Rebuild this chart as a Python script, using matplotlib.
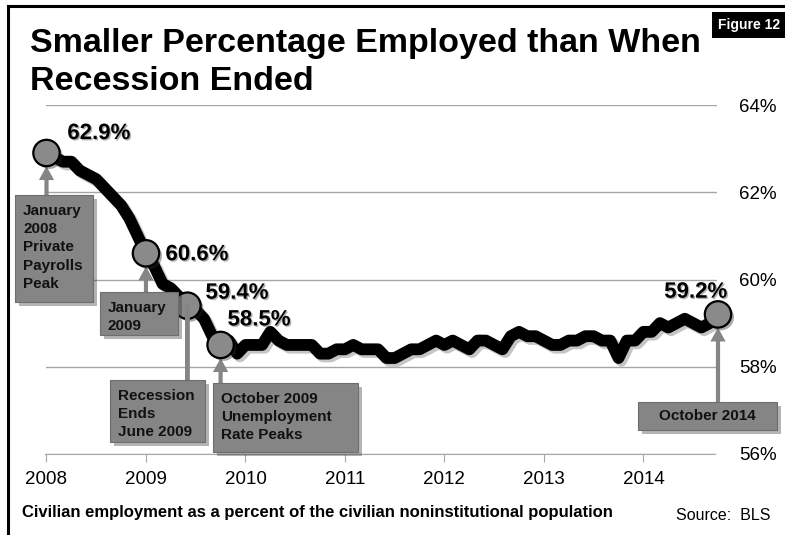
import matplotlib.pyplot as plt
import matplotlib.patheffects as pe
from matplotlib.patches import Rectangle
from matplotlib.ticker import FuncFormatter

plt.rcParams['font.family'] = ['Liberation Sans', 'DejaVu Sans']

# employment-population ratio, monthly, Jan 2008 - Oct 2014
emp_2008 = [62.9, 62.8, 62.7, 62.7, 62.5, 62.4, 62.3, 62.1, 61.9, 61.7, 61.4, 61.0]
emp_2009 = [60.6, 60.3, 59.9, 59.8, 59.6, 59.4, 59.3, 59.1, 58.7, 58.5, 58.6, 58.3]
emp_2010 = [58.5, 58.5, 58.5, 58.8, 58.6, 58.5, 58.5, 58.5, 58.5, 58.3, 58.3, 58.4]
emp_2011 = [58.4, 58.5, 58.4, 58.4, 58.4, 58.2, 58.2, 58.3, 58.4, 58.4, 58.5, 58.6]
emp_2012 = [58.5, 58.6, 58.5, 58.4, 58.6, 58.6, 58.5, 58.4, 58.7, 58.8, 58.7, 58.7]
emp_2013 = [58.6, 58.5, 58.5, 58.6, 58.6, 58.7, 58.7, 58.6, 58.6, 58.2, 58.6, 58.6]
emp_2014 = [58.8, 58.8, 59.0, 58.9, 59.0, 59.1, 59.0, 58.9, 59.0, 59.2]
emp = emp_2008 + emp_2009 + emp_2010 + emp_2011 + emp_2012 + emp_2013 + emp_2014
months = [2008 + i / 12 for i in range(len(emp))]

years = [2008, 2009, 2010, 2011, 2012, 2013, 2014]
y_ticks = [56, 58, 60, 62, 64]

# highlighted months (index into the series) and their notes
mark_idx = [0, 12, 17, 21, 81]
mark_notes = ["January\n2008\nPrivate\nPayrolls\nPeak",
              "January\n2009",
              "Recession\nEnds\nJune 2009",
              "October 2009\nUnemployment\nRate Peaks",
              "October 2014"]

W, H = 785, 535
GRAY = '#858585'

fig = plt.figure(figsize=(W / 100, H / 100), dpi=100)
fig.patch.set_facecolor('white')


def fx(px):
    return px / W


def fy(py):
    return 1 - py / H


ax = fig.add_axes([fx(46), fy(454), (717 - 46) / W, (454 - 105) / H])
ax.set_xlim(2008 - 0.005, 2014.74)
ax.set_ylim(56, 64)

# the series
ax.plot(months, emp, color='black', lw=8.5, solid_capstyle='round', solid_joinstyle='round',
        zorder=3, clip_on=False,
        path_effects=[pe.SimpleLineShadow(offset=(2, -2), shadow_color='gray', alpha=0.45), pe.Normal()])

mx = [months[i] for i in mark_idx]
my = [emp[i] for i in mark_idx]
ax.plot(mx, my, 'o', ms=19, mfc='#8a8a8a', mec='black', mew=1.6, zorder=5, clip_on=False,
        path_effects=[pe.SimplePatchShadow(offset=(2, -2), alpha=0.4), pe.Normal()])

# value labels next to the circles
label_offsets = [(15, 14), (14, -1), (13, 9), (5, 18), (-16, 16)]
label_ha = ['left', 'left', 'left', 'left', 'center']
for x, y, (dx, dy), ha in zip(mx, my, label_offsets, label_ha):
    ax.annotate(f"{y:.1f}%", xy=(x, y), xytext=(dx, dy), textcoords='offset points',
                ha=ha, va='center', fontsize=16, fontweight='bold', zorder=7,
                annotation_clip=False,
                path_effects=[pe.withSimplePatchShadow(offset=(1, -1), alpha=0.3)])

# grid, axes
ax.grid(axis='y', color='#a6a6a6', lw=1)
ax.set_axisbelow(True)
for s in ['top', 'left', 'right']:
    ax.spines[s].set_visible(False)
ax.spines['bottom'].set_color('#a6a6a6')
ax.spines['bottom'].set_bounds(2008 - 0.02, 2014.72)
ax.set_xticks(years)
ax.set_xticklabels([str(y) for y in years])
ax.set_yticks(y_ticks)
ax.yaxis.set_major_formatter(FuncFormatter(lambda v, p: f"{v:.0f}%"))
ax.yaxis.tick_right()
ax.tick_params(axis='y', length=0, pad=16, labelsize=13.5)
ax.tick_params(axis='x', length=6, color='#a6a6a6', pad=6, labelsize=13.5)

# note boxes (left, top, right, bottom in pixels) with arrows up to the circles
boxes = [(15, 195, 93, 302), (100, 292, 178, 335), (110, 380, 205, 442),
         (213, 383, 358, 452), (638, 402, 777, 430)]
for k, (l, t, r, b) in enumerate(boxes):
    rect = Rectangle((fx(l), fy(b)), fx(r) - fx(l), fy(t) - fy(b), transform=fig.transFigure,
                     fc=GRAY, ec='#6e6e6e', lw=0.8, zorder=4,
                     path_effects=[pe.withSimplePatchShadow(offset=(3, -3), alpha=0.35)])
    fig.add_artist(rect)
    if k == 4:
        fig.text(fx((l + r) / 2), fy((t + b) / 2), mark_notes[k], ha='center', va='center',
                 fontsize=11, fontweight='bold', color='#111111', zorder=6)
    else:
        fig.text(fx(l + 8), fy(t + 9), mark_notes[k], ha='left', va='top',
                 fontsize=11, fontweight='bold', color='#111111', linespacing=1.38, zorder=6)

    x, y = mx[k], my[k]
    if k == 2:
        ax.annotate('', xy=(x, y), xytext=(x, H - t), textcoords=('data', 'figure pixels'),
                    arrowprops=dict(arrowstyle='-', color=GRAY, lw=3.5, shrinkA=0, shrinkB=0),
                    zorder=6, annotation_clip=False)
    else:
        ax.annotate('', xy=(x, y), xytext=(x, H - t), textcoords=('data', 'figure pixels'),
                    arrowprops=dict(arrowstyle='simple,head_length=0.5,head_width=0.55,tail_width=0.15',
                                    fc=GRAY, ec='none', mutation_scale=20, shrinkA=0, shrinkB=9.5),
                    zorder=4, annotation_clip=False)

# title and notes
fig.text(fx(30), fy(28), "Smaller Percentage Employed than When\nRecession Ended",
         ha='left', va='top', fontsize=24.5, fontweight='bold', linespacing=1.28)
fig.text(fx(22), fy(512), "Civilian employment as a percent of the civilian noninstitutional population",
         ha='left', va='center', fontsize=12, fontweight='bold')
fig.text(fx(676), fy(516), "Source:  BLS", ha='left', va='center', fontsize=11.5)

# figure badge
fig.add_artist(Rectangle((fx(712), fy(38)), fx(785) - fx(712), fy(12) - fy(38),
                         transform=fig.transFigure, fc='black', ec='none'))
fig.text(fx(749), fy(25), "Figure 12", ha='center', va='center', color='white',
         fontsize=10, fontweight='bold')

# frame on the top and left edges
fig.add_artist(plt.Line2D([fx(8), 1], [fy(6), fy(6)], transform=fig.transFigure, color='black', lw=2.2))
fig.add_artist(plt.Line2D([fx(8), fx(8)], [fy(6), 0], transform=fig.transFigure, color='black', lw=2.2))

fig.savefig('out.png', dpi=100)
